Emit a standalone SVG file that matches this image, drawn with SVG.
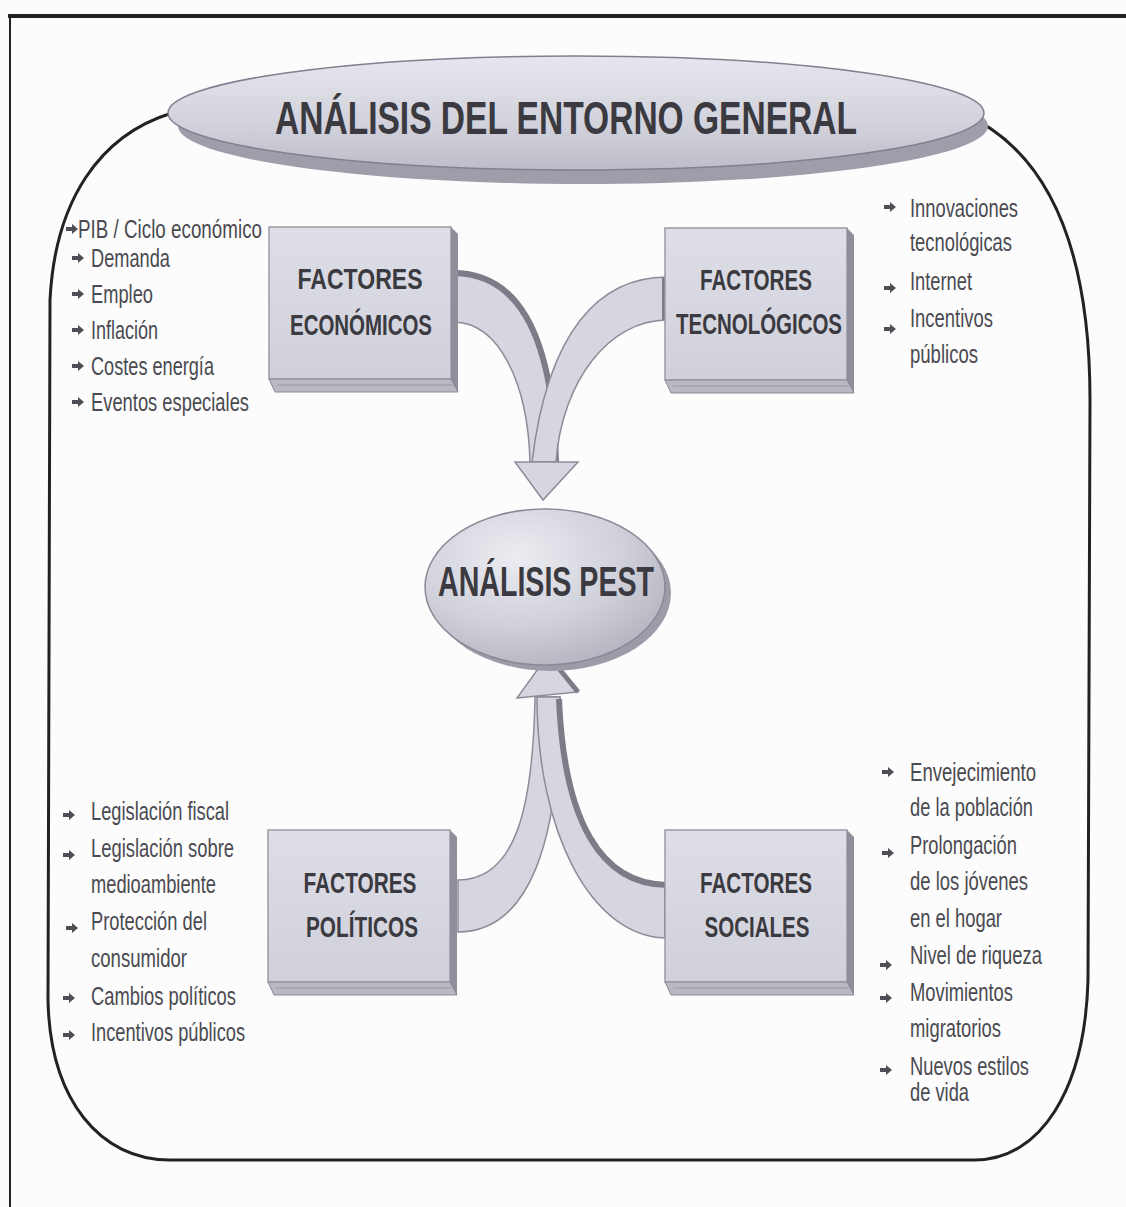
<svg xmlns="http://www.w3.org/2000/svg" xmlns:xlink="http://www.w3.org/1999/xlink" width="1126" height="1207" viewBox="0 0 1126 1207">
<defs>
<linearGradient id="ellG" x1="0" y1="0" x2="0" y2="1">
<stop offset="0" stop-color="#e6e6ee"/><stop offset="0.6" stop-color="#d2d2dc"/><stop offset="1" stop-color="#bdbdc9"/>
</linearGradient>
<radialGradient id="pestG" cx="0.38" cy="0.3" r="0.75">
<stop offset="0" stop-color="#ececf2"/><stop offset="0.6" stop-color="#d0d0da"/><stop offset="1" stop-color="#b4b4c0"/>
</radialGradient>
<linearGradient id="boxG" x1="0" y1="0" x2="0" y2="1">
<stop offset="0" stop-color="#dedee7"/><stop offset="1" stop-color="#d0d0db"/>
</linearGradient>
<symbol id="bullet" viewBox="0 0 12 10" width="12" height="10" overflow="visible">
<path d="M0,3 L6,3 L6,0 L12,5 L6,10 L6,7 L0,7 Z" fill="#4e4e55"/>
</symbol>
<g id="boxShape">
<rect x="0" y="0" width="182" height="152" fill="url(#boxG)" stroke="#9a9aa6" stroke-width="1.5"/>
<polygon points="182,0 189,7 189,165 182,158 182,152" fill="#8f8f9b"/>
<polygon points="0,152 182,152 189,165 6,165" fill="#b9b9c4" stroke="#8a8a96" stroke-width="1"/>
<line x1="8" y1="158" x2="184" y2="158" stroke="#9a9aa6" stroke-width="1"/>
</g>
</defs>
<style>
.lbl{font-family:"Liberation Sans",Arial,sans-serif;font-weight:bold;fill:#3a3a40;text-anchor:middle}
.item{font-family:"Liberation Sans",Arial,sans-serif;font-size:25px;fill:#4a4a50}
.band{fill:#d6d6e0;stroke:#8c8c98;stroke-width:1.5}
.edge{fill:none;stroke:#7c7c88;stroke-width:6}
</style>
<rect width="1126" height="1207" fill="#fcfcfd"/>
<g id="frame">
<line x1="8" y1="16" x2="1126" y2="16" stroke="#222" stroke-width="4"/>
<line x1="10" y1="14" x2="10" y2="1207" stroke="#222" stroke-width="2"/>
</g>
<g id="container">
<path d="M172,113 C100,135 55,200 50,300 L48,1000 C50,1100 100,1160 170,1160 L975,1160 C1040,1160 1085,1090 1088,980 L1090,400 C1090,250 1050,150 960,112" fill="none" stroke="#222" stroke-width="3"/>
</g>
<g id="title">
<ellipse cx="583" cy="126" rx="405" ry="58" fill="#9e9eaa"/>
<ellipse cx="576" cy="113" rx="408" ry="57" fill="url(#ellG)" stroke="#808090" stroke-width="1.5"/>
<text class="lbl" x="566" y="134" font-size="47" textLength="582" lengthAdjust="spacingAndGlyphs" fill="#2e2e33">ANÁLISIS DEL ENTORNO GENERAL</text>
</g>
<g id="connectors">
<g id="arrows-top">
<path class="band" d="M453,272 C515,272 553,330 556,462 L530,462 C528,385 500,322 453,322 Z"/>
<path class="edge" d="M453,273 C515,273 553,330 556,462"/>
<path class="band" d="M667,277 C600,277 548,330 532,462 L556,462 C562,380 610,320 667,320 Z"/>
<path d="M664,277 L664,320" stroke="#7c7c88" stroke-width="4"/>
<path class="band" d="M515,462 L578,462 L543,500 Z"/>
</g>
<g id="arrows-bottom">
<path class="band" d="M458,880 C515,880 533,810 535,697 L560,697 C560,840 530,932 458,932 Z"/>
<path class="band" d="M668,884 C600,884 565,820 560,697 L537,697 C537,830 590,938 668,938 Z"/>
<path class="edge" d="M668,885 C600,885 564,820 559,699"/>
<path d="M666,884 L666,938" stroke="#7c7c88" stroke-width="4"/>
<path class="band" d="M517,698 L578,692 L548,655 Z"/>
<path d="M548,655 L578,692" stroke="#7c7c88" stroke-width="5"/>
</g>
</g>
<g id="pest">
<ellipse cx="551" cy="593" rx="120" ry="78" fill="#9c9ca8"/>
<ellipse cx="545" cy="587" rx="120" ry="78" fill="url(#pestG)" stroke="#8a8a96" stroke-width="1.5"/>
<text class="lbl" x="546" y="596" font-size="42" textLength="216" lengthAdjust="spacingAndGlyphs" fill="#34343a">ANÁLISIS PEST</text>
</g>
<g id="node-economicos">
<use href="#boxShape" transform="translate(269,227)"/>
<text class="lbl" x="360" y="289" font-size="30" textLength="125" lengthAdjust="spacingAndGlyphs">FACTORES</text>
<text class="lbl" x="361" y="335" font-size="30" textLength="142" lengthAdjust="spacingAndGlyphs">ECONÓMICOS</text>
</g>
<g id="node-tecnologicos">
<use href="#boxShape" transform="translate(665,228)"/>
<text class="lbl" x="756" y="290" font-size="30" textLength="112" lengthAdjust="spacingAndGlyphs">FACTORES</text>
<text class="lbl" x="759" y="334" font-size="30" textLength="166" lengthAdjust="spacingAndGlyphs">TECNOLÓGICOS</text>
</g>
<g id="node-politicos">
<use href="#boxShape" transform="translate(268,830)"/>
<text class="lbl" x="360" y="893" font-size="30" textLength="113" lengthAdjust="spacingAndGlyphs">FACTORES</text>
<text class="lbl" x="362" y="937" font-size="30" textLength="112" lengthAdjust="spacingAndGlyphs">POLÍTICOS</text>
</g>
<g id="node-sociales">
<use href="#boxShape" transform="translate(665,830)"/>
<text class="lbl" x="756" y="893" font-size="30" textLength="112" lengthAdjust="spacingAndGlyphs">FACTORES</text>
<text class="lbl" x="757" y="937" font-size="30" textLength="105" lengthAdjust="spacingAndGlyphs">SOCIALES</text>
</g>
<g id="list-economicos">
<use href="#bullet" x="66" y="224"/>
<text class="item" x="78" y="238" textLength="184" lengthAdjust="spacingAndGlyphs">PIB / Ciclo económico</text>
<use href="#bullet" x="72" y="253"/>
<text class="item" x="91" y="267" textLength="79" lengthAdjust="spacingAndGlyphs">Demanda</text>
<use href="#bullet" x="72" y="289"/>
<text class="item" x="91" y="303" textLength="62" lengthAdjust="spacingAndGlyphs">Empleo</text>
<use href="#bullet" x="72" y="325"/>
<text class="item" x="91" y="339" textLength="67" lengthAdjust="spacingAndGlyphs">Inflación</text>
<use href="#bullet" x="72" y="361"/>
<text class="item" x="91" y="375" textLength="123" lengthAdjust="spacingAndGlyphs">Costes energía</text>
<use href="#bullet" x="72" y="397"/>
<text class="item" x="91" y="411" textLength="158" lengthAdjust="spacingAndGlyphs">Eventos especiales</text>
</g>
<g id="list-tecnologicos">
<use href="#bullet" x="884" y="202"/>
<text class="item" x="910" y="217" textLength="108" lengthAdjust="spacingAndGlyphs">Innovaciones</text>
<text class="item" x="910" y="251" textLength="102" lengthAdjust="spacingAndGlyphs">tecnológicas</text>
<use href="#bullet" x="884" y="283"/>
<text class="item" x="910" y="290" textLength="62" lengthAdjust="spacingAndGlyphs">Internet</text>
<use href="#bullet" x="884" y="324"/>
<text class="item" x="910" y="327" textLength="83" lengthAdjust="spacingAndGlyphs">Incentivos</text>
<text class="item" x="910" y="363" textLength="68" lengthAdjust="spacingAndGlyphs">públicos</text>
</g>
<g id="list-politicos">
<use href="#bullet" x="63" y="810"/>
<text class="item" x="91" y="820" textLength="138" lengthAdjust="spacingAndGlyphs">Legislación fiscal</text>
<use href="#bullet" x="63" y="850"/>
<text class="item" x="91" y="857" textLength="143" lengthAdjust="spacingAndGlyphs">Legislación sobre</text>
<text class="item" x="91" y="893" textLength="125" lengthAdjust="spacingAndGlyphs">medioambiente</text>
<use href="#bullet" x="66" y="923"/>
<text class="item" x="91" y="930" textLength="116" lengthAdjust="spacingAndGlyphs">Protección del</text>
<text class="item" x="91" y="967" textLength="96" lengthAdjust="spacingAndGlyphs">consumidor</text>
<use href="#bullet" x="63" y="993"/>
<text class="item" x="91" y="1005" textLength="145" lengthAdjust="spacingAndGlyphs">Cambios políticos</text>
<use href="#bullet" x="63" y="1030"/>
<text class="item" x="91" y="1041" textLength="154" lengthAdjust="spacingAndGlyphs">Incentivos públicos</text>
</g>
<g id="list-sociales">
<use href="#bullet" x="882" y="767"/>
<text class="item" x="910" y="781" textLength="126" lengthAdjust="spacingAndGlyphs">Envejecimiento</text>
<text class="item" x="910" y="816" textLength="123" lengthAdjust="spacingAndGlyphs">de la población</text>
<use href="#bullet" x="882" y="848"/>
<text class="item" x="910" y="854" textLength="107" lengthAdjust="spacingAndGlyphs">Prolongación</text>
<text class="item" x="910" y="890" textLength="118" lengthAdjust="spacingAndGlyphs">de los jóvenes</text>
<text class="item" x="910" y="927" textLength="92" lengthAdjust="spacingAndGlyphs">en el hogar</text>
<use href="#bullet" x="880" y="960"/>
<text class="item" x="910" y="964" textLength="132" lengthAdjust="spacingAndGlyphs">Nivel de riqueza</text>
<use href="#bullet" x="880" y="993"/>
<text class="item" x="910" y="1001" textLength="103" lengthAdjust="spacingAndGlyphs">Movimientos</text>
<text class="item" x="910" y="1037" textLength="91" lengthAdjust="spacingAndGlyphs">migratorios</text>
<use href="#bullet" x="880" y="1065"/>
<text class="item" x="910" y="1075" textLength="119" lengthAdjust="spacingAndGlyphs">Nuevos estilos</text>
<text class="item" x="910" y="1101" textLength="59" lengthAdjust="spacingAndGlyphs">de vida</text>
</g>
</svg>
